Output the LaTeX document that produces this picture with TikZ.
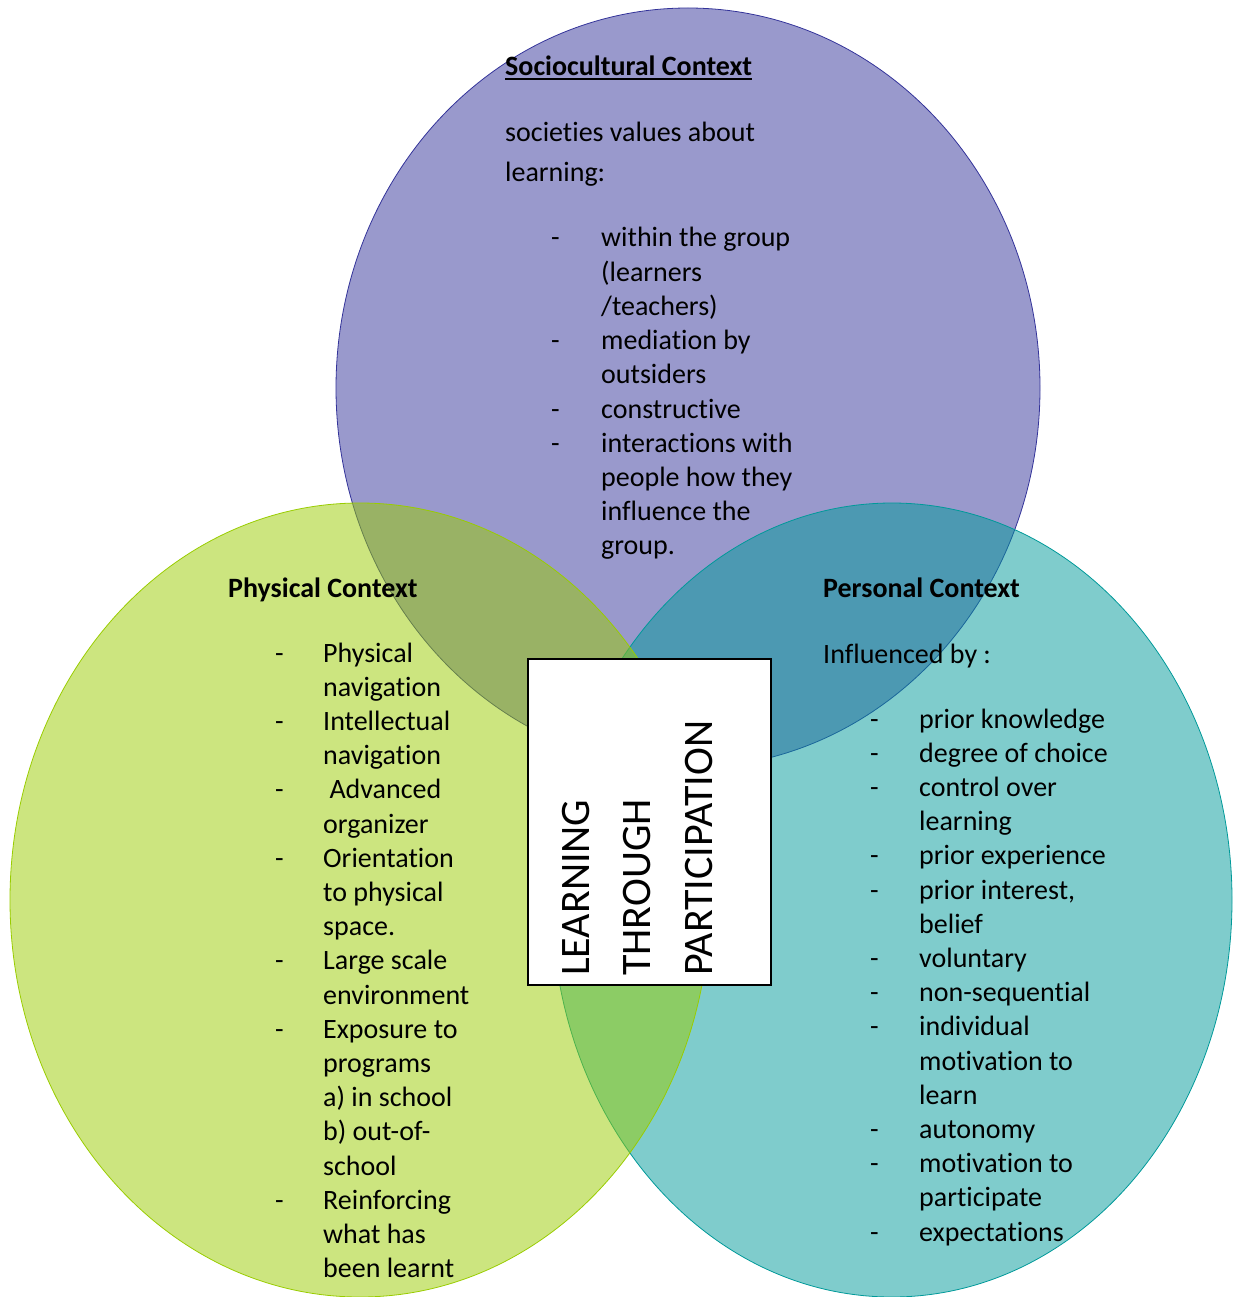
\documentclass[tikz,border=0pt]{standalone}
\usepackage{fontspec}
\setmainfont{Carlito}[RawFeature={-liga;-clig;-calt;-dlig}]
\definecolor{socio}{HTML}{333399}
\definecolor{phys}{HTML}{99CC00}
\definecolor{pers}{HTML}{009999}
\begin{document}
\begin{tikzpicture}[x=1pt,y=-1pt,
    ctx/.style={fill opacity=.5,line width=.8pt},
    txt/.style={inner sep=0pt,anchor=base west,font=\fontsize{28}{34.2}\selectfont},
    head/.style={txt,font=\fontsize{28}{34.2}\selectfont\bfseries}]
  \useasboundingbox (0,0) rectangle (1233,1297);
  % the three contexts
  \draw[ctx,draw=socio,fill=socio] (688,388) ellipse [x radius=352pt,y radius=380pt];
  \draw[ctx,draw=pers,fill=pers] (892,900) ellipse [x radius=340pt,y radius=397pt];
  \draw[ctx,draw=phys,fill=phys] (360,900) ellipse [x radius=350pt,y radius=397pt];
  % sociocultural
  \node[head] (soctitle) at (505,76) {Sociocultural Context};
  \draw[line width=1.8pt] ([yshift=-3pt]soctitle.base west) -- ([yshift=-3pt]soctitle.base east);
  \node[txt] (socintro) at (505,142) {societies values about};
  \node[txt] (soclead) at (505,182) {learning:};
  \node[txt] (soclist) at (551,247) {\begin{tabular}[t]{@{}p{50pt}@{}l@{}}
    -&within the group\\ &(learners\\ &/teachers)\\
    -&mediation by\\ &outsiders\\
    -&constructive\\
    -&interactions with\\ &people how they\\ &influence the\\ &group.
  \end{tabular}};
  % physical
  \node[head] (phystitle) at (228,597) {Physical Context};
  \node[txt] (physlist) at (275,662) {\begin{tabular}[t]{@{}p{48pt}@{}l@{}}
    -&Physical\\ &navigation\\
    -&Intellectual\\ &navigation\\
    -&\ Advanced\\ &organizer\\
    -&Orientation\\ &to physical\\ &space.\\
    -&Large scale\\ &environment\\
    -&Exposure to\\ &programs\\ &a) in school\\ &b) out-of-\\ &school\\
    -&Reinforcing\\ &what has\\ &been learnt
  \end{tabular}};
  % personal
  \node[head] (perstitle) at (823,597) {Personal Context};
  \node[txt] (persintro) at (823,663) {Influenced by :};
  \node[txt] (perslist) at (870,728) {\begin{tabular}[t]{@{}p{49pt}@{}l@{}}
    -&prior knowledge\\
    -&degree of choice\\
    -&control over\\ &learning\\
    -&prior experience\\
    -&prior interest,\\ &belief\\
    -&voluntary\\
    -&non-sequential\\
    -&individual\\ &motivation to\\ &learn\\
    -&autonomy\\
    -&motivation to\\ &participate\\
    -&expectations
  \end{tabular}};
  % centre box
  \node[draw,line width=2pt,fill=white,minimum width=243pt,minimum height=326pt,inner sep=0pt] (lbox) at (649.5,822) {};
  \node[rotate=90,inner sep=0pt,anchor=base west,font=\fontsize{42}{61.5}\selectfont] (lbl) at (589,976)
    {\begin{tabular}[t]{@{}l@{}}LEARNING\\THROUGH\\PARTICIPATION\end{tabular}};
\end{tikzpicture}
\end{document}
